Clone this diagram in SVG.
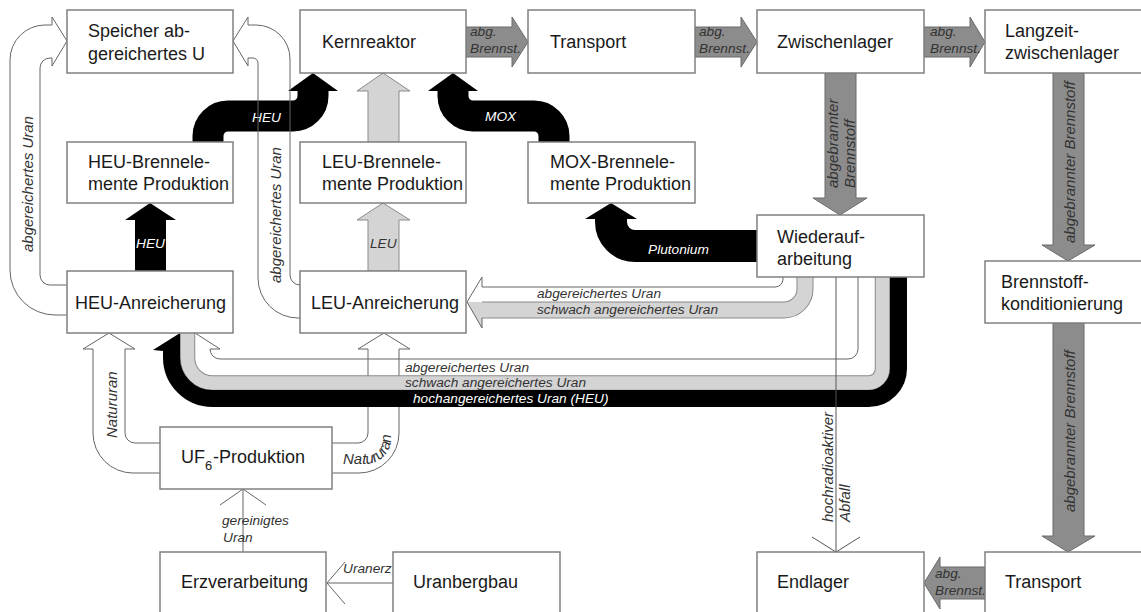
<svg xmlns="http://www.w3.org/2000/svg" width="1141" height="612" viewBox="0 0 1141 612">
<style>
.box{fill:#fff;stroke:#808080;stroke-width:1.5}
.t{font-family:"Liberation Sans",Arial,sans-serif;font-size:18px;fill:#1a1a1a}
.l{font-family:"Liberation Sans",Arial,sans-serif;font-size:13.7px;font-style:italic;fill:#333}
.lr{font-family:"Liberation Sans",Arial,sans-serif;font-size:15px;font-style:italic;fill:#333}
.g{fill:#8c8c8c;stroke:#6a6a6a;stroke-width:1}
.lg{fill:#d4d4d4;stroke:#8a8a8a;stroke-width:1}
.ln{fill:none;stroke:#666;stroke-width:1}
.bk{fill:none;stroke:#000;stroke-width:31}
.gd{fill:none;stroke:#8a8a8a}
.gl{fill:none;stroke:#d4d4d4}
</style>
<defs>
<path id="natpath" d="M 343 464 H 366 A 25 25 0 0 0 391 439 V 390"/>
</defs>
<rect width="1141" height="612" fill="#fff"/>
<g id="connectors">
  <polygon class="g" points="466,27 512,27 512,17 528,42 512,67 512,57 466,57"/>
  <polygon class="g" points="695,27 741,27 741,17 757,42 741,67 741,57 695,57"/>
  <polygon class="g" points="924,27 970,27 970,17 985,42 970,67 970,57 924,57"/>
  <text class="l" x="470" y="36">abg.</text><text class="l" x="470" y="53">Brennst.</text>
  <text class="l" x="699" y="36">abg.</text><text class="l" x="699" y="53">Brennst.</text>
  <text class="l" x="930" y="36">abg.</text><text class="l" x="930" y="53">Brennst.</text>
  <polygon class="g" points="825,73 856,73 856,198 867,198 840,215 813,198 825,198"/>
  <polygon class="g" points="1053,73 1084,73 1084,245 1095,245 1068,261 1042,245 1053,245"/>
  <polygon class="g" points="1053,323 1084,323 1084,536 1095,536 1068,552 1042,536 1053,536"/>
  <polygon class="g" points="985,567 940,567 940,557 924,583 940,609 940,599 985,599"/>
  <text class="lr" transform="translate(838,188) rotate(-90)">abgebrannter</text>
  <text class="lr" transform="translate(855,188) rotate(-90)">Brennstoff</text>
  <text class="lr" transform="translate(1075,243) rotate(-90)">abgebrannter Brennstoff</text>
  <text class="lr" transform="translate(1075,512) rotate(-90)">abgebrannter Brennstoff</text>
  <text class="l" x="935" y="578">abg.</text><text class="l" x="935" y="595">Brennst.</text>
  <polygon fill="#000" points="135,271 166,271 166,220 176,220 150,203 125,220 135,220"/>
  <text class="l" x="136" y="248" style="fill:#fff">HEU</text>
  <polygon class="lg" points="368,271 399,271 399,220 410,220 383,203 357,220 368,220"/>
  <text class="l" x="370" y="248">LEU</text>
  <polygon class="lg" points="368,142 399,142 399,91 410,91 383,73 357,91 368,91"/>
  <path class="bk" d="M 208 142 V 136 A 20 20 0 0 1 228 116 H 293 A 20 20 0 0 0 313 96 V 90"/>
  <polygon fill="#000" points="288,91 313,73 338,91"/>
  <text class="l" x="252" y="122" style="fill:#fff">HEU</text>
  <path class="bk" d="M 554 142 V 136 A 20 20 0 0 0 534 116 H 473 A 20 20 0 0 1 453 96 V 90"/>
  <polygon fill="#000" points="428,91 453,73 478,91"/>
  <text class="l" x="485" y="121" style="fill:#fff">MOX</text>
  <path class="bk" style="stroke-width:32" d="M 757 246 H 635 A 24 24 0 0 1 611 222 V 218"/>
  <polygon fill="#000" points="585,219 611,203 637,219"/>
  <text class="l" x="648" y="254" style="fill:#fff">Plutonium</text>
  <path class="ln" d="M 67 315 H 55 A 45 45 0 0 1 10 270 V 60 A 35 35 0 0 1 45 25 H 52 L 52 17 L 67 41 L 52 66 L 52 58 H 50 A 10 10 0 0 0 40 68 V 275 A 10 10 0 0 0 50 285 H 67"/>
  <text class="lr" transform="translate(33,252) rotate(-90)">abgereichertes Uran</text>
  <path class="ln" d="M 300 285 A 10 10 0 0 1 290 275 V 59 A 34 34 0 0 0 256 25 H 248 L 248 17 L 233 41 L 248 66 L 248 58 H 253 A 5 5 0 0 1 258 63 V 278 A 40 40 0 0 0 298 318 H 300"/>
  <text class="lr" transform="translate(281,283) rotate(-90)">abgereichertes Uran</text>
  <path class="ln" d="M 160 443 H 135 A 10 10 0 0 1 125 433 V 349 H 135 L 109 333 L 83 349 H 93 V 433 A 40 40 0 0 0 133 473 H 160"/>
  <text class="lr" transform="translate(117,438) rotate(-90)">Natururan</text>
  <path class="ln" d="M 331 443 H 358 A 10 10 0 0 0 368 433 V 349 H 358 L 384 333 L 410 349 H 399 V 433 A 40 40 0 0 1 359 473 H 331"/>
  <text class="lr"><textPath href="#natpath">Natururan</textPath></text>
  <path class="ln" d="M 243 552 V 489 M 220 505 L 243 489 L 266 505"/>
  <text class="l" x="222" y="525">gereinigtes</text><text class="l" x="223" y="542">Uran</text>
  <path class="ln" d="M 393 583 H 327 M 345 562 L 327 583 L 345 604"/>
  <text class="l" x="343" y="573">Uranerz</text>
  <path class="gd" style="stroke-width:17" d="M 482 310 H 784 A 21 21 0 0 0 805 289 V 277"/>
  <path class="gl" style="stroke-width:15" d="M 482 310 H 784 A 21 21 0 0 0 805 289 V 277"/>
  <path class="ln" d="M 482 287 H 775 A 8 8 0 0 0 783 279 V 277"/>
  <polygon fill="#fff" points="482,277 467,302 482,302"/>
  <polygon fill="#d4d4d4" points="482,302 467,302 482,328"/>
  <path class="ln" d="M 482 287 V 277 L 467 302 L 482 328 V 318"/>
  <text class="l" x="537" y="298">abgereichertes Uran</text>
  <text class="l" x="537" y="314">schwach angereichertes Uran</text>
  <path class="gd" style="stroke-width:15.5" d="M 882.5 277 V 369 A 14 14 0 0 1 868.5 383 H 212.5 A 25 25 0 0 1 187.5 358 V 333"/>
  <path class="gl" style="stroke-width:13.5" d="M 882.5 277 V 369 A 14 14 0 0 1 868.5 383 H 212.5 A 25 25 0 0 1 187.5 358 V 333"/>
  <path fill="none" stroke="#000" stroke-width="17" d="M 898.5 277 V 368.5 A 30 30 0 0 1 868.5 398.5 H 212.5 A 41 41 0 0 1 171.5 357.5 V 350"/>
  <polygon fill="#000" points="153,350 180,333 180,351 163,351"/>
  <path class="ln" d="M 858 277 V 349 A 10 10 0 0 1 848 359 H 220 A 10 10 0 0 1 210 349 H 220 L 195 333"/>
  <text class="l" x="405" y="372">abgereichertes Uran</text>
  <text class="l" x="405" y="387">schwach angereichertes Uran</text>
  <text class="l" x="413" y="403" style="fill:#fff">hochangereichertes Uran (HEU)</text>
  <path class="ln" style="stroke:#555" d="M 836 277 V 552 M 812 537 L 836 552 L 860 537"/>
  <text class="lr" transform="translate(833,522) rotate(-90)">hochradioaktiver</text>
  <text class="lr" transform="translate(850,522) rotate(-90)">Abfall</text>
</g>
<g id="speicher"><rect class="box" x="67" y="10" width="166" height="63"/><text class="t" x="88" y="37">Speicher ab-</text><text class="t" x="88" y="60">gereichertes U</text></g>
<g id="kernreaktor"><rect class="box" x="300" y="10" width="166" height="63"/><text class="t" x="322" y="48">Kernreaktor</text></g>
<g id="transport1"><rect class="box" x="528" y="10" width="167" height="63"/><text class="t" x="550" y="48">Transport</text></g>
<g id="zwischenlager"><rect class="box" x="757" y="10" width="167" height="63"/><text class="t" x="777" y="48">Zwischenlager</text></g>
<g id="langzeit"><rect class="box" x="985" y="10" width="170" height="63"/><text class="t" x="1005" y="37">Langzeit-</text><text class="t" x="1005" y="59">zwischenlager</text></g>
<g id="heube"><rect class="box" x="67" y="142" width="166" height="61"/><text class="t" x="88" y="168">HEU-Brennele-</text><text class="t" x="88" y="190">mente Produktion</text></g>
<g id="leube"><rect class="box" x="300" y="142" width="166" height="61"/><text class="t" x="322" y="168">LEU-Brennele-</text><text class="t" x="322" y="190">mente Produktion</text></g>
<g id="moxbe"><rect class="box" x="528" y="142" width="167" height="61"/><text class="t" x="550" y="168">MOX-Brennele-</text><text class="t" x="550" y="190">mente Produktion</text></g>
<g id="wiederaufarbeitung"><rect class="box" x="757" y="215" width="167" height="62"/><text class="t" x="777" y="243">Wiederauf-</text><text class="t" x="777" y="265">arbeitung</text></g>
<g id="konditionierung"><rect class="box" x="985" y="261" width="170" height="62"/><text class="t" x="1001" y="288">Brennstoff-</text><text class="t" x="1001" y="310">konditionierung</text></g>
<g id="heuanr"><rect class="box" x="67" y="271" width="166" height="62"/><text class="t" x="75" y="309">HEU-Anreicherung</text></g>
<g id="leuanr"><rect class="box" x="300" y="271" width="166" height="62"/><text class="t" x="311" y="309">LEU-Anreicherung</text></g>
<g id="uf6"><rect class="box" x="160" y="427" width="172" height="62"/><text class="t" x="181" y="463">UF<tspan style="font-size:13px" x="205" y="470">6</tspan><tspan x="213" y="463">-Produktion</tspan></text></g>
<g id="erzverarbeitung"><rect class="box" x="160" y="552" width="166" height="70"/><text class="t" x="181" y="588">Erzverarbeitung</text></g>
<g id="uranbergbau"><rect class="box" x="393" y="552" width="167" height="70"/><text class="t" x="413" y="588">Uranbergbau</text></g>
<g id="endlager"><rect class="box" x="757" y="552" width="167" height="70"/><text class="t" x="777" y="588">Endlager</text></g>
<g id="transport2"><rect class="box" x="985" y="552" width="170" height="70"/><text class="t" x="1005" y="588">Transport</text></g>
</svg>
